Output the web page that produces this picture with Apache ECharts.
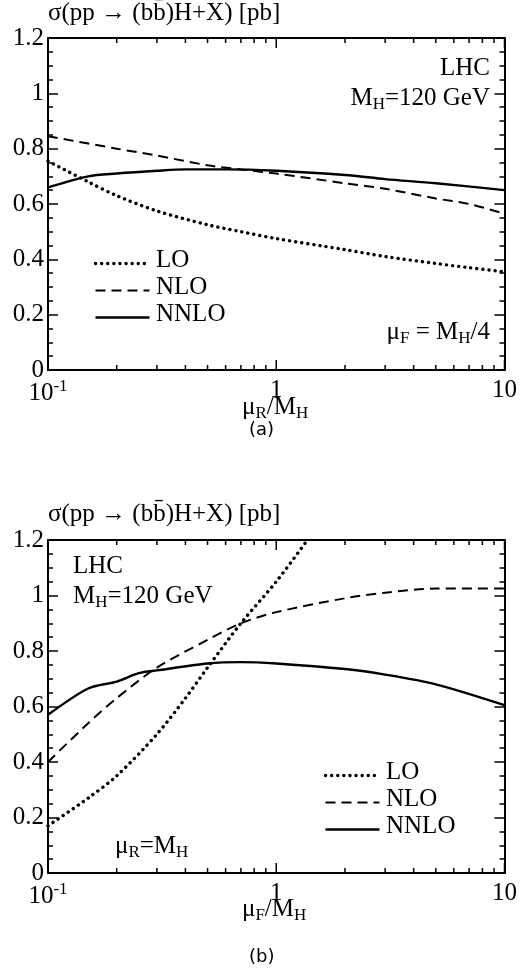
<!DOCTYPE html>
<html>
<head>
<meta charset="utf-8">
<script src="https://cdn.jsdelivr.net/npm/echarts@6/dist/echarts.min.js"></script>
<style>html,body{margin:0;padding:0;background:#fff}#chart{width:520px;height:979px}</style>
</head>
<body>
<div id="chart"></div>
<script>
// 上图 (a): μF = MH/4, 横轴 μR/MH
var loA   = [[0.1,0.755],[0.15,0.68],[0.2,0.63],[0.3,0.575],[0.5,0.525],[0.7,0.5],[1,0.475],[2,0.435],[3,0.41],[5,0.385],[7,0.37],[10,0.355]];
var nloA  = [[0.1,0.845],[0.2,0.8],[0.3,0.775],[0.5,0.74],[0.7,0.725],[1,0.71],[2,0.675],[3,0.655],[5,0.62],[7,0.6],[10,0.565]];
var nnloA = [[0.1,0.66],[0.15,0.7],[0.2,0.71],[0.3,0.72],[0.4,0.725],[0.6,0.725],[1,0.72],[2,0.705],[3,0.69],[5,0.675],[10,0.65]];
// 下图 (b): μR = MH, 横轴 μF/MH
var loB   = [[0.1,0.17],[0.15,0.27],[0.2,0.35],[0.3,0.5],[0.4,0.63],[0.5,0.74],[0.7,0.9],[1,1.05],[1.37,1.2]];
var nloB  = [[0.1,0.4],[0.15,0.54],[0.2,0.63],[0.3,0.74],[0.5,0.84],[0.7,0.9],[1,0.94],[2,0.99],[3,1.01],[5,1.025],[10,1.025]];
var nnloB = [[0.1,0.57],[0.15,0.665],[0.2,0.69],[0.25,0.72],[0.3,0.73],[0.5,0.755],[0.7,0.76],[1,0.755],[2,0.735],[3,0.715],[5,0.68],[10,0.605]];
var minorX = [0.2,0.3,0.4,0.5,0.6,0.7,0.8,0.9,2,3,4,5,6,7,8,9];
var majorX = [0.1,1,10];
var seriesNames = ['LO','NLO','NNLO'];

var F = '"Liberation Serif", "DejaVu Serif", serif';
var FS = 25;
var chart = echarts.init(document.getElementById('chart'));
var sub = {sub:{fontFamily:F,fontSize:17,verticalAlign:'bottom',padding:[13,0,0,0],color:'#000'}, n:{fontFamily:F,fontSize:FS,color:'#000'}};
var lineDefs = [{type:[0.1,6],width:3.4,cap:'round'},{type:[10,6],width:2,cap:'butt'},{type:'solid',width:2.4,cap:'butt'}];

function xAxes(gi) {
  var base = {type:'log',logBase:10,min:0.1,max:10,gridIndex:gi,splitLine:{show:false},axisTick:{show:false},
    axisLine:{show:true,onZero:false,lineStyle:{color:'#000',width:2}}};
  return [
    Object.assign({}, base, {position:'bottom',
      axisLabel:{color:'#000',fontFamily:F,fontSize:FS,margin:8,
        formatter:function(v){return v<0.5?'{n|10}{sup|-1}':(v<5?'{n|1}':'{n|10}');},
        rich:{n:{fontFamily:F,fontSize:FS,color:'#000'},sup:{fontFamily:F,fontSize:17,color:'#000',verticalAlign:'top',padding:[0,0,14,0]}}}}),
    Object.assign({}, base, {position:'top',axisLabel:{show:false}})
  ];
}
function yAxes(gi) {
  var base = {type:'value',min:0,max:1.2,interval:0.2,gridIndex:gi,
    axisLine:{show:true,onZero:false,lineStyle:{color:'#000',width:2}},splitLine:{show:false},
    axisTick:{show:true,inside:true,length:10,lineStyle:{color:'#000',width:1.5}},
    minorTick:{show:true,splitNumber:4,length:5,lineStyle:{color:'#000',width:1.5}}};
  return [
    Object.assign({}, base, {position:'left',axisLabel:{color:'#000',fontFamily:F,fontSize:FS,margin:4,
      formatter:function(v){return v===0||v===1?String(v):v.toFixed(1);}}}),
    Object.assign({}, base, {position:'right',axisLabel:{show:false}})
  ];
}
function lines(data, gi) {
  return data.map(function(d,i){
    return {name:seriesNames[i],type:'line',xAxisIndex:gi*2,yAxisIndex:gi*2,data:d,smooth:0.3,
      showSymbol:false,symbol:'none',lineStyle:Object.assign({color:'#000'},lineDefs[i]),z:3};
  });
}
function legendItems(x, y) {
  return seriesNames.map(function(n,i){
    var d = lineDefs[i];
    return [
      {type:'line',left:x,top:y+i*27+13,shape:{x1:0,y1:0,x2:54,y2:0},
       style:{stroke:'#000',lineWidth:d.width,lineDash:d.type==='solid'?null:d.type,lineCap:d.cap}},
      {type:'text',left:x+63,top:y+i*27,style:{text:n,font:FS+'px '+F,fill:'#000'}}
    ];
  }).reduce(function(a,b){return a.concat(b);},[]);
}
var title = 'σ(pp → (bb̄)H+X) [pb]';
var texts = [
  {type:'text',left:48,top:1,style:{text:title,font:'25px '+F,fill:'#000'}},
  {type:'text',left:48,top:502,style:{text:title,font:'25px '+F,fill:'#000'}},
  {type:'text',right:30,top:56,style:{text:'LHC',font:FS+'px '+F,fill:'#000'}},
  {type:'text',right:30,top:86,style:{text:'{n|M}{sub|H}{n|=120 GeV}',rich:sub}},
  {type:'text',right:30,top:320,style:{text:'{n|μ}{sub|F}{n| = M}{sub|H}{n|/4}',rich:sub}},
  {type:'text',left:73,top:554,style:{text:'LHC',font:FS+'px '+F,fill:'#000'}},
  {type:'text',left:73,top:584,style:{text:'{n|M}{sub|H}{n|=120 GeV}',rich:sub}},
  {type:'text',left:115,top:834,style:{text:'{n|μ}{sub|R}{n|=M}{sub|H}',rich:sub}},
  {type:'text',left:242,top:395,style:{text:'{n|μ}{sub|R}{n|/M}{sub|H}',rich:sub}},
  {type:'text',left:242,top:897,style:{text:'{n|μ}{sub|F}{n|/M}{sub|H}',rich:sub}},
  {type:'text',left:249,top:421,style:{text:'(a)',font:'18px "DejaVu Sans", sans-serif',fill:'#000'}},
  {type:'text',left:249,top:948,style:{text:'(b)',font:'18px "DejaVu Sans", sans-serif',fill:'#000'}}
].concat(legendItems(93,248)).concat(legendItems(323,760));

chart.setOption({
  animation:false,
  grid:[{left:48,right:13,top:38,bottom:609},{left:48,right:13,top:540,bottom:106}],
  xAxis: xAxes(0).concat(xAxes(1)),
  yAxis: yAxes(0).concat(yAxes(1)),
  series: lines([loA,nloA,nnloA],0).concat(lines([loB,nloB,nnloB],1))
});

// 对数轴刻度：通过 convertToPixel 从轴的比例尺求位置
var ticks = [];
[0,1].forEach(function(gi){
  [[majorX,10],[minorX,5]].forEach(function(set){
    set[0].forEach(function(v){
      var b = chart.convertToPixel({xAxisIndex:gi*2,yAxisIndex:gi*2},[v,0]);
      var t = chart.convertToPixel({xAxisIndex:gi*2,yAxisIndex:gi*2},[v,1.2]);
      var s = {stroke:'#000',lineWidth:1.5};
      ticks.push({type:'line',z:10,shape:{x1:b[0],y1:b[1],x2:b[0],y2:b[1]-set[1]},style:s});
      ticks.push({type:'line',z:10,shape:{x1:t[0],y1:t[1],x2:t[0],y2:t[1]+set[1]},style:s});
    });
  });
});
chart.setOption({graphic: texts.concat(ticks)});
</script>
</body>
</html>
